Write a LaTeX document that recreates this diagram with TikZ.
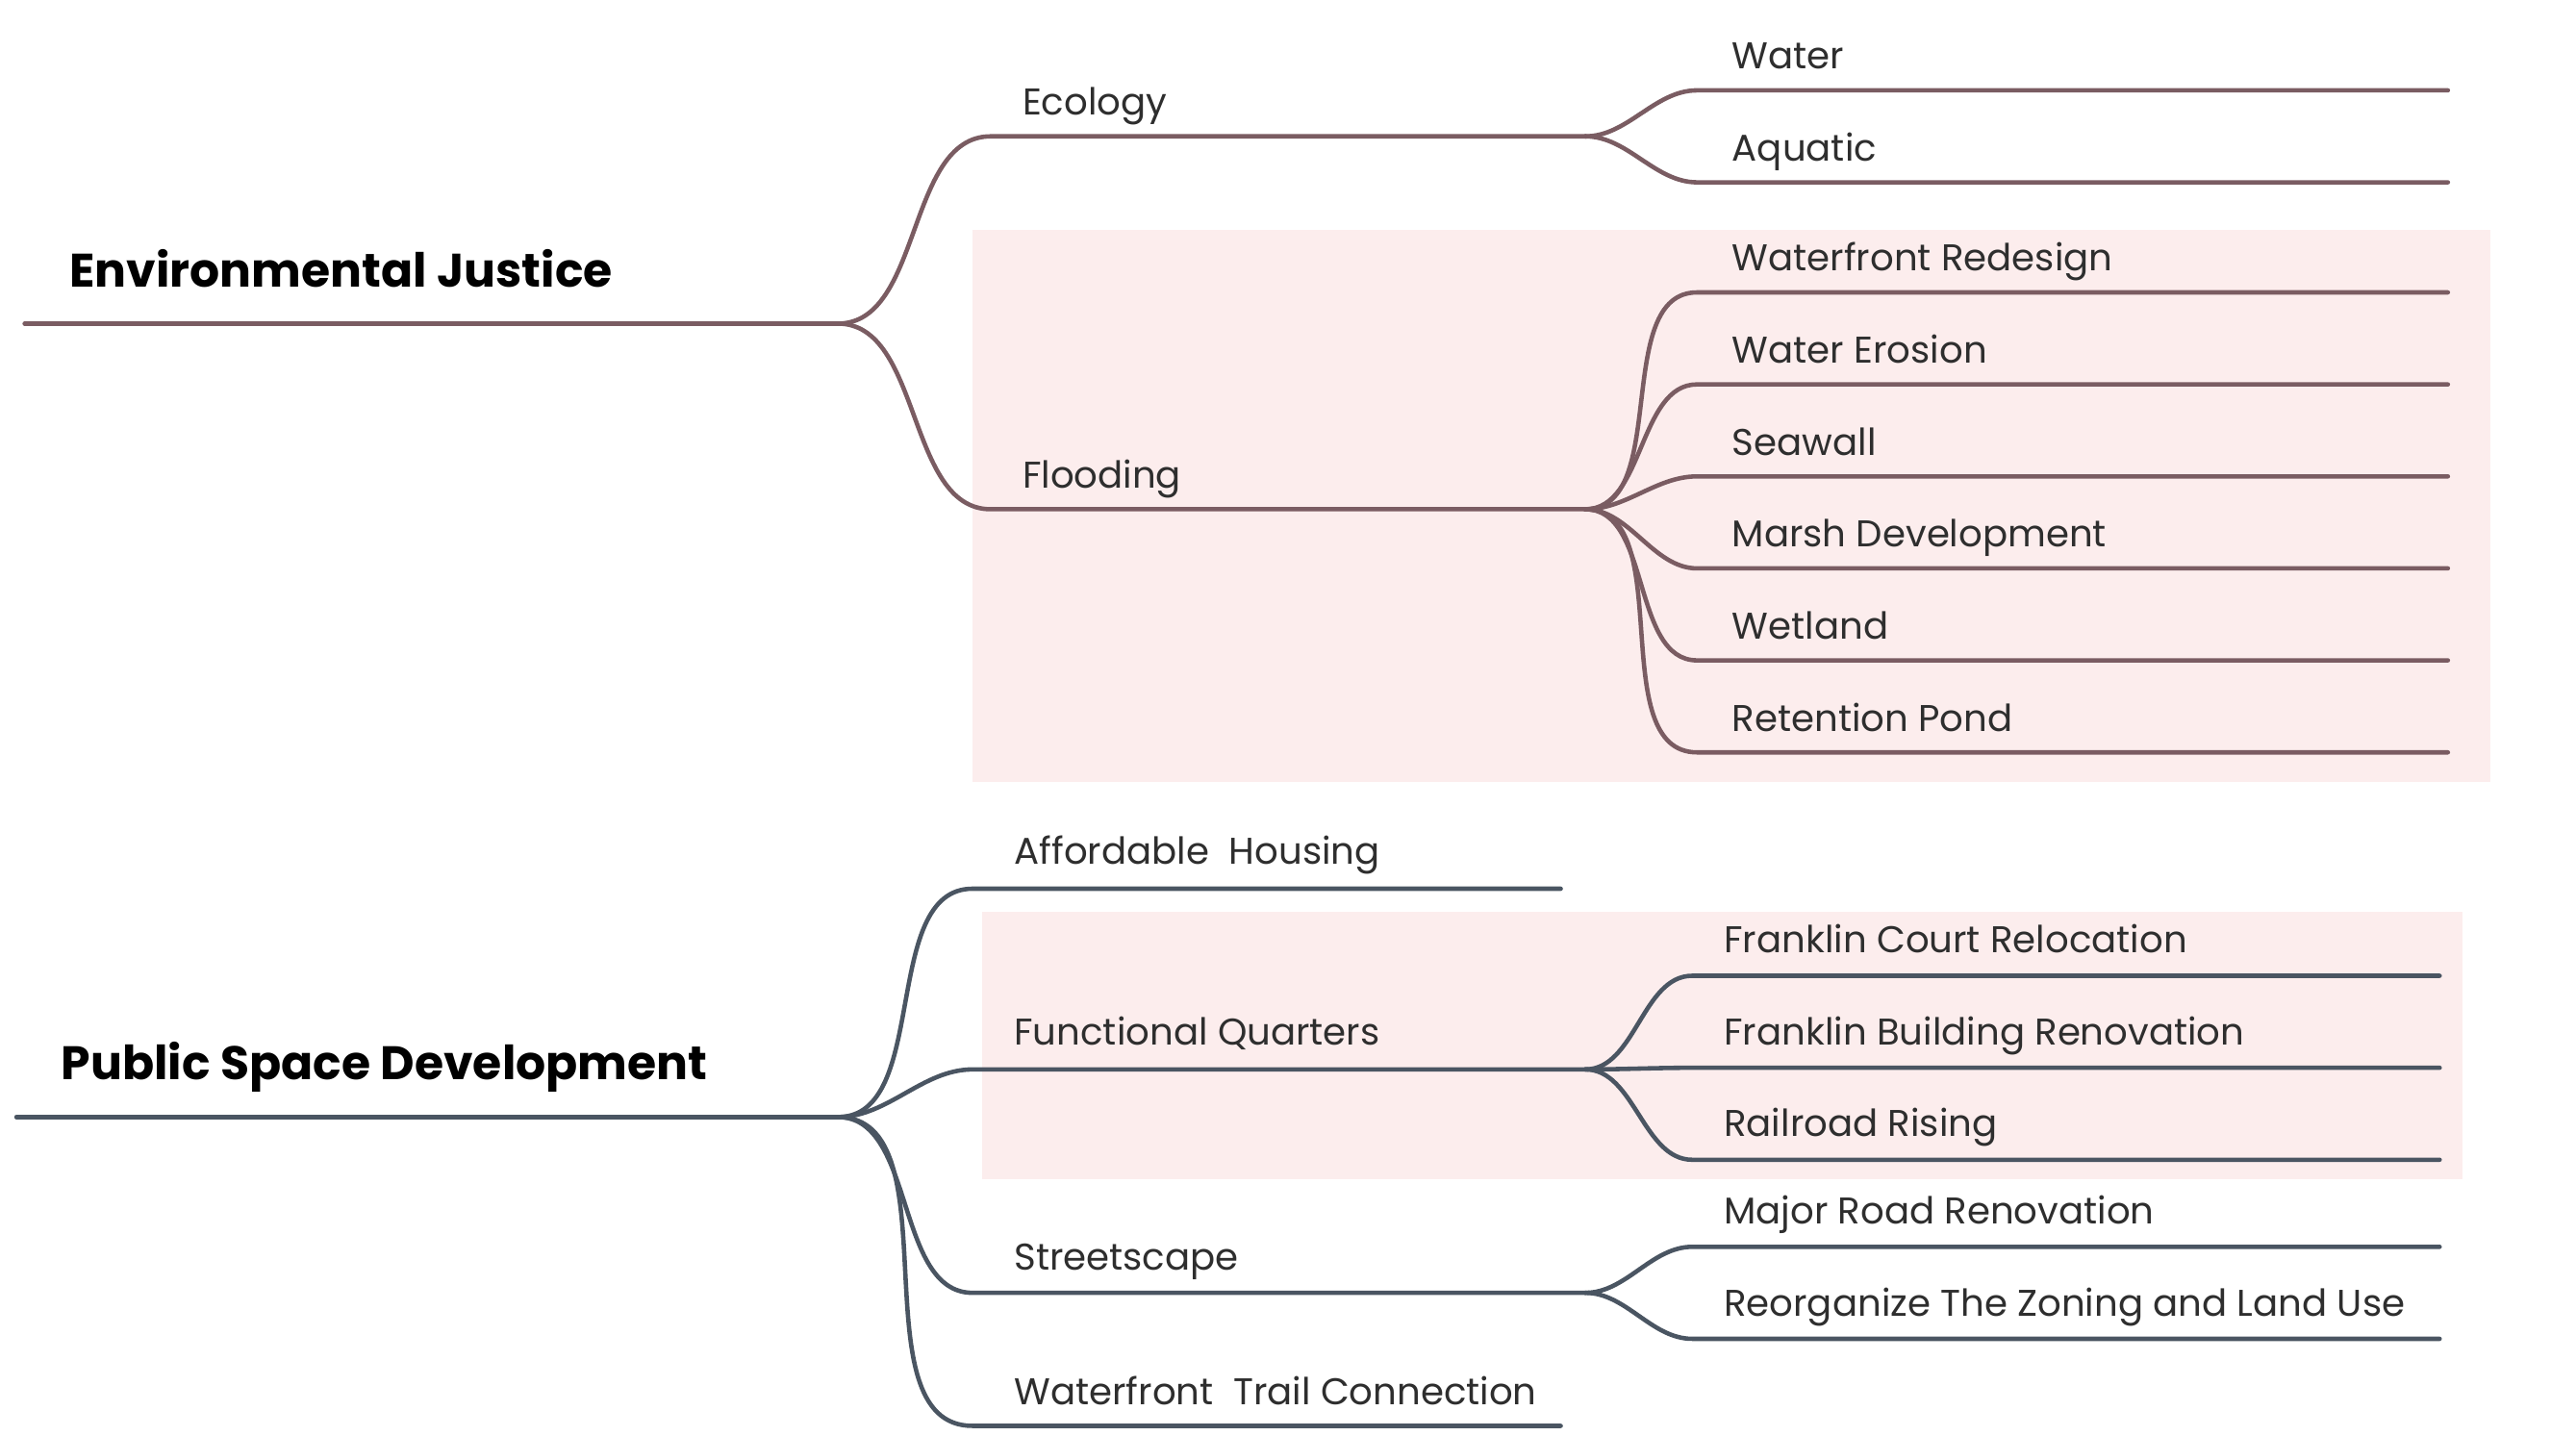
\documentclass[tikz,border=0pt]{standalone}
\usepackage{fontspec}
\setmainfont{Poppins}
\definecolor{ejc}{HTML}{7A5C62}
\definecolor{psc}{HTML}{4A5562}
\definecolor{pinkbg}{HTML}{FCEDED}
\definecolor{txt}{HTML}{2E2E2E}
\begin{document}
\begin{tikzpicture}[x=0.0170791cm,y=-0.0170791cm,
  lbl/.style={anchor=base west, inner sep=0pt, text=txt, font=\fontsize{11}{13}\selectfont},
  ttl/.style={anchor=base west, inner sep=0pt, text=black, font=\fontsize{13.9}{16}\selectfont\bfseries},
  ej/.style={draw=ejc, line width=1.3pt, line cap=round},
  ps/.style={draw=psc, line width=1.3pt, line cap=round},
  br/.style={out=0, in=180, looseness=0.9}]
\useasboundingbox[fill=white] (0,0) rectangle (1568,874);
% highlight boxes
\fill[pinkbg] (592,140) rectangle (1516,476);
\fill[pinkbg] (598,555) rectangle (1499,718);

% ===== Environmental Justice =====
\coordinate (ejS) at (15,197);   \coordinate (ejJ) at (510,197);
\coordinate (ecoS) at (603,83);  \coordinate (ecoJ) at (965,83);
\coordinate (floS) at (603,310); \coordinate (floJ) at (965,310);
\coordinate (watS) at (1033,55);  \coordinate (watE) at (1490,55);
\coordinate (aqS) at (1033,111);  \coordinate (aqE) at (1490,111);
\coordinate (wrS) at (1033,178);  \coordinate (wrE) at (1490,178);
\coordinate (weS) at (1033,234);  \coordinate (weE) at (1490,234);
\coordinate (swS) at (1033,290);  \coordinate (swE) at (1490,290);
\coordinate (mdS) at (1033,346);  \coordinate (mdE) at (1490,346);
\coordinate (wlS) at (1033,402);  \coordinate (wlE) at (1490,402);
\coordinate (rpS) at (1033,458);  \coordinate (rpE) at (1490,458);

\node[ttl] (ej) at (42,175) {Environmental Justice};
\node[lbl] (eco) at (622,70) {Ecology};
\node[lbl] (flo) at (622,297) {Flooding};
\node[lbl] (wat) at (1054,42) {Water};
\node[lbl] (aq) at (1054,98) {Aquatic};
\node[lbl] (wr) at (1054,165) {Waterfront Redesign};
\node[lbl] (we) at (1054,221) {Water Erosion};
\node[lbl] (sw) at (1054,277) {Seawall};
\node[lbl] (md) at (1054,333) {Marsh Development};
\node[lbl] (wl) at (1054,389) {Wetland};
\node[lbl] (rp) at (1054,445) {Retention Pond};

\draw[ej] (ejS) -- (ejJ);
\draw[ej] (ejJ) to[br] (ecoS) -- (ecoJ);
\draw[ej] (ejJ) to[br] (floS) -- (floJ);
\foreach \c in {wat,aq}{\draw[ej] (ecoJ) to[br] (\c S) -- (\c E);}
\foreach \c in {wr,we,sw,md,wl,rp}{\draw[ej] (floJ) to[br] (\c S) -- (\c E);}

% ===== Public Space Development =====
\coordinate (psS) at (10,680);   \coordinate (psJ) at (510,680);
\coordinate (ahS) at (592,541);  \coordinate (ahE) at (950,541);
\coordinate (fqS) at (592,651);  \coordinate (fqJ) at (965,651);
\coordinate (ssS) at (592,787);  \coordinate (ssJ) at (965,787);
\coordinate (wtS) at (592,868);  \coordinate (wtE) at (950,868);
\coordinate (fcS) at (1030,594); \coordinate (fcE) at (1485,594);
\coordinate (fbS) at (1030,650); \coordinate (fbE) at (1485,650);
\coordinate (rrS) at (1030,706); \coordinate (rrE) at (1485,706);
\coordinate (mrS) at (1030,759); \coordinate (mrE) at (1485,759);
\coordinate (rzS) at (1030,815); \coordinate (rzE) at (1485,815);

\node[ttl] (psd) at (37,657) {Public Space Development};
\node[lbl] (ah) at (617,526) {Affordable\ \ Housing};
\node[lbl] (fq) at (617,636) {Functional Quarters};
\node[lbl] (ss) at (617,773) {Streetscape};
\node[lbl] (wt) at (617,855) {Waterfront\ \ Trail Connection};
\node[lbl] (fc) at (1049,580) {Franklin Court Relocation};
\node[lbl] (fb) at (1049,636) {Franklin Building Renovation};
\node[lbl] (rr) at (1049,692) {Railroad Rising};
\node[lbl] (mr) at (1049,745) {Major Road Renovation};
\node[lbl] (rz) at (1049,801) {Reorganize The Zoning and Land Use};

\draw[ps] (psS) -- (psJ);
\draw[ps] (psJ) to[br] (ahS) -- (ahE);
\draw[ps] (psJ) to[br] (fqS) -- (fqJ);
\draw[ps] (psJ) to[br] (ssS) -- (ssJ);
\draw[ps] (psJ) to[br] (wtS) -- (wtE);
\foreach \c in {fc,fb,rr}{\draw[ps] (fqJ) to[br] (\c S) -- (\c E);}
\foreach \c in {mr,rz}{\draw[ps] (ssJ) to[br] (\c S) -- (\c E);}
\end{tikzpicture}
\end{document}
